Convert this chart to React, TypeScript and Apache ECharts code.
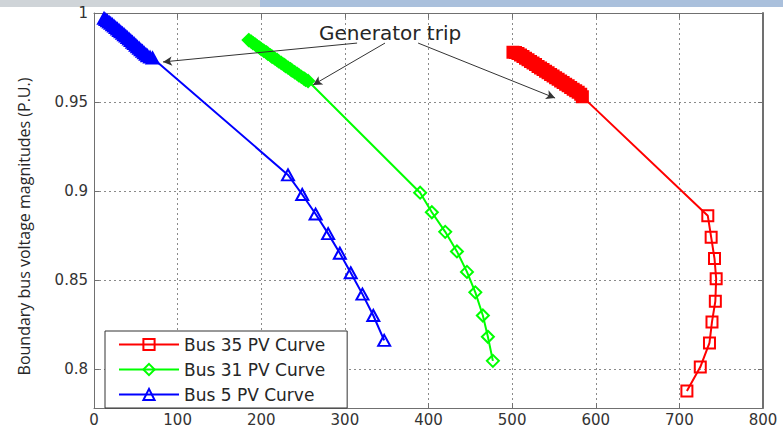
import React, { useEffect, useRef } from "react";
import * as echarts from "echarts";

const xTicks = [0, 100, 200, 300, 400, 500, 600, 700, 800];
const yTicks = [0.8, 0.85, 0.9, 0.95, 1];

const seriesNames = ["Bus 35 PV Curve", "Bus 31 PV Curve", "Bus 5 PV Curve"];

// Dense cluster just after the generator trip, then the PV sweep.
const bus35Trip: [number, number][] = [
  [501, 0.978], [504, 0.9778], [507, 0.9772], [510, 0.9764], [513, 0.9755], [516, 0.9746],
  [519, 0.9737], [522, 0.9728], [525, 0.9719], [528, 0.971], [531, 0.97], [534, 0.9691],
  [537, 0.9682], [540, 0.9673], [543, 0.9664], [546, 0.9655], [549, 0.9646], [552, 0.9636],
  [555, 0.9627], [558, 0.9618], [561, 0.9609], [564, 0.96], [567, 0.9591], [570, 0.9581],
  [573, 0.9572], [576, 0.9563], [579, 0.9554], [582, 0.9543], [584, 0.953],
];
const bus35Sweep: [number, number][] = [
  [734, 0.886], [738, 0.874], [742, 0.862], [744, 0.8506], [743, 0.838], [739, 0.8264],
  [736, 0.8146], [725, 0.801], [709, 0.7876],
];

const bus31Trip: [number, number][] = [
  [185, 0.9848], [188, 0.9839], [190, 0.9831], [193, 0.9822], [195, 0.9814], [198, 0.9805],
  [200, 0.9797], [203, 0.9788], [206, 0.9779], [208, 0.9771], [211, 0.9762], [213, 0.9754],
  [216, 0.9745], [219, 0.9736], [221, 0.9728], [224, 0.9719], [227, 0.971], [229, 0.9702],
  [232, 0.9693], [235, 0.9684], [237, 0.9676], [240, 0.9667], [243, 0.9658], [245, 0.965],
  [248, 0.9641], [251, 0.9632], [253, 0.9625], [256, 0.9618],
];
const bus31Sweep: [number, number][] = [
  [390, 0.899], [404, 0.888], [420, 0.877], [434, 0.866], [446, 0.8545], [456, 0.843],
  [465, 0.83], [471, 0.818], [477, 0.8045],
];

const bus5Trip: [number, number][] = [
  [12, 0.997], [14, 0.9963], [16, 0.9956], [18, 0.9949], [20, 0.9942], [22, 0.9934],
  [24, 0.9926], [26, 0.9918], [28, 0.991], [30, 0.9902], [32, 0.9894], [34, 0.9886],
  [36, 0.9878], [38, 0.987], [40, 0.9862], [42, 0.9853], [44, 0.9845], [46, 0.9836],
  [48, 0.9828], [50, 0.9819], [52, 0.981], [54, 0.9802], [56, 0.9793], [58, 0.9785],
  [60, 0.9776], [62, 0.9768], [64, 0.976], [67, 0.9752], [70, 0.9747],
];
const bus5Sweep: [number, number][] = [
  [232, 0.909], [249, 0.898], [265, 0.887], [280, 0.876], [294, 0.865], [307, 0.854],
  [321, 0.842], [334, 0.83], [347, 0.816],
];

const annotationText = "Generator trip";
const annotationAnchor: [number, number] = [354, 0.9888];
const tripArrows: [[number, number], [number, number]][] = [
  [[314.6, 0.9831], [82.5, 0.9725]],
  [[348, 0.9831], [262, 0.9596]],
  [[387.6, 0.9831], [551.4, 0.9522]],
];

const COLORS = ["#ff0000", "#00ff00", "#0000ff"];
const SYMBOLS = ["rect", "diamond", "triangle"];
const SIZES: (number | number[])[] = [11, 12, [12, 11]];

export default function App() {
  const ref = useRef<HTMLDivElement>(null);

  useEffect(() => {
    if (!ref.current) return;
    const chart = echarts.init(ref.current, null, { renderer: "svg" });
    const trips = [bus35Trip, bus31Trip, bus5Trip];
    const sweeps = [bus35Sweep, bus31Sweep, bus5Sweep];

    const axisLineStyle = { color: "#707070", width: 1 };
    const tickStyle = { show: true, inside: true, length: 5, lineStyle: { color: "#707070" } };
    const splitStyle = { show: true, lineStyle: { type: [2, 3] as any, color: "#8a8a8a", width: 1 } };

    const series: any[] = trips.map((trip, i) => ({
      name: seriesNames[i],
      type: "line",
      data: [
        ...trip.map((p) => ({ value: p, itemStyle: { color: COLORS[i] } })),
        ...sweeps[i].map((p) => ({ value: p })),
      ],
      symbol: SYMBOLS[i],
      symbolSize: SIZES[i],
      showAllSymbol: true,
      lineStyle: { color: COLORS[i], width: 2 },
      itemStyle: { color: "rgba(255,255,255,0)", borderColor: COLORS[i], borderWidth: 2 },
      z: 3 + i,
      clip: false,
    }));

    series[2].markLine = {
      silent: true,
      symbol: ["none", "arrow"],
      symbolSize: [7, 9],
      lineStyle: { color: "#333", width: 1, type: "solid" },
      label: { show: false },
      data: tripArrows.map(([a, b]) => [{ coord: a }, { coord: b }]),
    };
    series[2].markPoint = {
      silent: true,
      symbol: "circle",
      symbolSize: 0,
      label: {
        show: true,
        position: "inside",
        formatter: annotationText,
        fontFamily: "DejaVu Sans",
        fontSize: 20,
        color: "#262626",
      },
      data: [{ coord: annotationAnchor }],
    };

    chart.setOption({
      animation: false,
      backgroundColor: "#ffffff",
      grid: { left: 94, right: 20, top: 13, bottom: 24, show: false },
      graphic: [
        { type: "rect", left: 0, top: 0, shape: { width: 260, height: 7 }, style: { fill: "#cfd4d8" }, silent: true },
        { type: "rect", left: 260, top: 0, shape: { width: 523, height: 7 }, style: { fill: "#aac0dc" }, silent: true },
      ],
      legend: {
        orient: "vertical",
        left: 105,
        top: 331,
        padding: [5, 22, 5, 13],
        itemGap: 8,
        itemWidth: 60,
        itemHeight: 14,
        backgroundColor: "#ffffff",
        borderColor: "#333333",
        borderWidth: 1,
        borderRadius: 0,
        textStyle: { fontFamily: "DejaVu Sans", fontSize: 17, color: "#262626" },
        data: seriesNames,
      },
      xAxis: [
        {
          type: "value",
          min: 0,
          max: 800,
          interval: 100,
          axisLine: { show: true, onZero: false, lineStyle: axisLineStyle },
          axisTick: tickStyle,
          splitLine: splitStyle,
          axisLabel: { color: "#333", fontFamily: "DejaVu Sans", fontSize: 15, margin: 4 },
        },
        {
          type: "value",
          position: "top",
          min: 0,
          max: 800,
          interval: 100,
          axisLine: { show: true, onZero: false, lineStyle: axisLineStyle },
          axisTick: tickStyle,
          splitLine: { show: false },
          axisLabel: { show: false },
        },
      ],
      yAxis: [
        {
          type: "value",
          min: 0.778,
          max: 1,
          axisLine: { show: true, onZero: false, lineStyle: axisLineStyle },
          axisTick: { ...tickStyle, customValues: yTicks },
          splitLine: splitStyle,
          axisLabel: {
            customValues: yTicks,
            color: "#333",
            fontFamily: "DejaVu Sans",
            fontSize: 15,
            margin: 6,
            formatter: (v: number) => String(+v.toFixed(2)),
          },
          name: "Boundary bus voltage magnitudes (P.U.)",
          nameLocation: "middle",
          nameGap: 62,
          nameTextStyle: { fontFamily: "Open Sans", fontSize: 16, color: "#262626", padding: [0, 32, 0, 0] },
        },
        {
          type: "value",
          position: "right",
          min: 0.778,
          max: 1,
          axisLine: { show: true, onZero: false, lineStyle: { color: "#707070", width: 2 } },
          axisTick: { ...tickStyle, customValues: yTicks },
          splitLine: { show: false },
          axisLabel: { show: false },
        },
      ],
      series,
    });
    return () => chart.dispose();
  }, []);

  return (
    <div
      ref={ref}
      style={{ position: "fixed", left: 0, top: 0, width: 783, height: 432, background: "#fff" }}
    />
  );
}
